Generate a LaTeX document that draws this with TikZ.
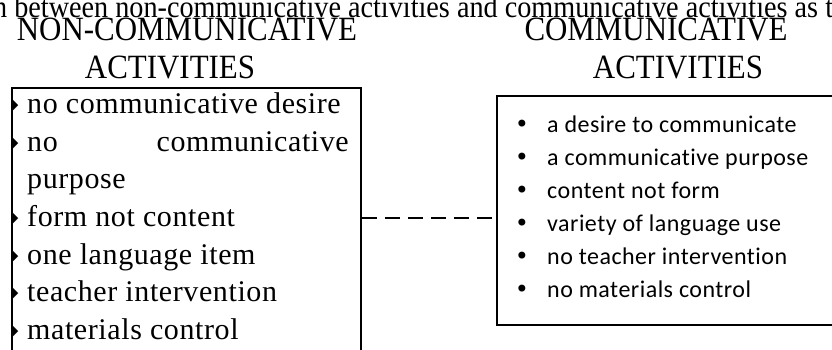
\documentclass[tikz,border=0pt]{standalone}
\usepackage{fontspec}
\setmainfont{Liberation Serif}
\newfontfamily\lserif[LetterSpace=2]{Liberation Serif}
\newfontfamily\rsans[LetterSpace=2, Ligatures=NoCommon]{Carlito}
\newfontfamily\symf{DejaVu Sans}
\tikzset{
  boxframe/.style={draw=black, line width=2.3pt, rectangle, inner sep=0pt},
  litem/.style={anchor=base west, inner sep=0pt, font=\lserif\fontsize{30}{30}\selectfont},
  ritem/.style={anchor=base west, inner sep=0pt, font=\rsans\fontsize{24}{24}\selectfont},
  heading/.style={anchor=base, inner sep=0pt, font=\fontsize{34}{34}\selectfont, xscale=0.91},
  lbul/.style={anchor=center, inner sep=0pt, font=\symf\fontsize{15}{15}\selectfont, xscale=0.5},
  rbul/.style={anchor=base, inner sep=0pt, font=\symf\fontsize{24}{24}\selectfont},
}
\begin{document}
\begin{tikzpicture}[x=1pt,y=-1pt]
\useasboundingbox (0,0) rectangle (832,349);
\clip (0,0) rectangle (832,349);
% top cut-off sentence
\node[anchor=base west, inner sep=0pt, font=\fontsize{31}{31}\selectfont, xscale=0.91] (cap) at (-7,17)
  {n between non-communicative activities and communicative activities as t};
% headings
\node[heading] (hl1) at (187,40) {NON-COMMUNICATIVE};
\node[heading] (hl2) at (170,78) {ACTIVITIES};
\node[heading] (hr1) at (656,40) {COMMUNICATIVE};
\node[heading] (hr2) at (678,78) {ACTIVITIES};
% boxes
\node[boxframe, anchor=north west, minimum width=349pt, minimum height=300pt] (lbox) at (11,87) {};
\node[boxframe, anchor=north west, minimum width=350pt, minimum height=229pt] (rbox) at (496,95) {};
% connector
\draw[line width=2.6pt, dash pattern=on 15pt off 8pt] (lbox.north east |- 0,218) -- (rbox.north west |- 0,218);
% left items
\foreach \y [count=\i] in {113.5,151.5,226.5,264.5,301.5,339.5}{
  \node[lbul] (lb\i) at (15.5,\y-7.5) {▶};
}
\node[litem] (l1) at (27,113.5) {no communicative desire};
\node[litem] (l2a) at (27,151.5) {no};
\node[litem, anchor=base east] (l2b) at (349,151.5) {communicative};
\node[litem] (l2c) at (27,188.5) {purpose};
\node[litem] (l3) at (27,226.5) {form not content};
\node[litem] (l4) at (27,264.5) {one language item};
\node[litem] (l5) at (27,301.5) {teacher intervention};
\node[litem] (l6) at (27,339.5) {materials control};
% right items
\foreach \y [count=\i] in {132.5,165.5,198.5,231.5,264.5,297.5}{
  \node[rbul] (rb\i) at (522,\y) {•};
}
\node[ritem] (r1) at (547,132.5) {a desire to communicate};
\node[ritem] (r2) at (547,165.5) {a communicative purpose};
\node[ritem] (r3) at (547,198.5) {content not form};
\node[ritem] (r4) at (547,231.5) {variety of language use};
\node[ritem] (r5) at (547,264.5) {no teacher intervention};
\node[ritem] (r6) at (547,297.5) {no materials control};
\end{tikzpicture}
\end{document}
